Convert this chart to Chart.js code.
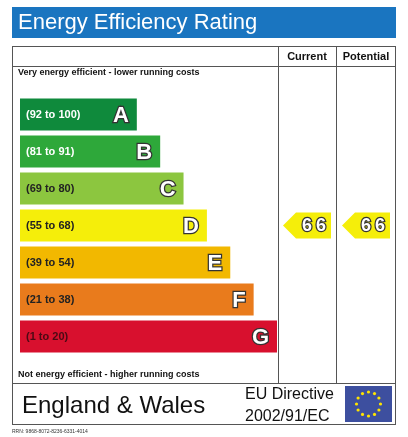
<!DOCTYPE html>
<html>
<head>
<meta charset="utf-8">
<script src="https://cdn.jsdelivr.net/npm/chart.js@4"></script>
<style>
  html, body { margin: 0; padding: 0; background: #fff; }
  #wrap { width: 408px; height: 437px; position: relative; }
</style>
</head>
<body>
<div id="wrap"><canvas id="epc" width="408" height="437"></canvas></div>
<script>
// band data
const bandLetters = ['A', 'B', 'C', 'D', 'E', 'F', 'G'];
const bandRanges = ['(92 to 100)', '(81 to 91)', '(69 to 80)', '(55 to 68)', '(39 to 54)', '(21 to 38)', '(1 to 20)'];
const bandLengths = [5, 6, 7, 8, 9, 10, 11];
const bandColors = ['#0f8a3c', '#2ea83a', '#8cc63f', '#f5ee0a', '#f2b800', '#e97b1c', '#d8102e'];
const rangeTextColors = ['#fff', '#fff', '#222', '#222', '#222', '#222', '#4a0a14'];
const currentRating = 66;
const potentialRating = 66;
const currentBand = 'D';
const potentialBand = 'D';

const FONT = 'Arial, "Liberation Sans", sans-serif';

function outlinedText(ctx, txt, x, y, size, align) {
  ctx.font = 'bold ' + size + 'px ' + FONT;
  ctx.textAlign = align;
  ctx.textBaseline = 'middle';
  ctx.lineWidth = 2.5;
  ctx.strokeStyle = '#333';
  ctx.strokeText(txt, x, y);
  ctx.fillStyle = '#fff';
  ctx.fillText(txt, x, y);
}

const framePlugin = {
  id: 'frame',
  beforeDraw(chart) {
    const ctx = chart.ctx;
    ctx.save();
    // title bar
    ctx.fillStyle = '#1a75c0';
    ctx.fillRect(12, 7, 384, 31);
    ctx.fillStyle = '#fff';
    ctx.font = '22px ' + FONT;
    ctx.textBaseline = 'middle';
    ctx.fillText('Energy Efficiency Rating', 18, 23);

    // table frame
    ctx.strokeStyle = '#555';
    ctx.lineWidth = 1;
    ctx.strokeRect(12.5, 46.5, 383, 378);
    ctx.beginPath();
    ctx.moveTo(12, 66.5); ctx.lineTo(396, 66.5);
    ctx.moveTo(12, 383.5); ctx.lineTo(396, 383.5);
    ctx.moveTo(278.5, 46); ctx.lineTo(278.5, 383);
    ctx.moveTo(336.5, 46); ctx.lineTo(336.5, 383);
    ctx.stroke();

    ctx.fillStyle = '#111';
    ctx.font = 'bold 11px ' + FONT;
    ctx.textAlign = 'center';
    ctx.fillText('Current', 307, 57);
    ctx.fillText('Potential', 366, 57);
    ctx.textAlign = 'left';
    ctx.font = 'bold 9px ' + FONT;
    ctx.fillText('Very energy efficient - lower running costs', 18, 73);
    ctx.fillText('Not energy efficient - higher running costs', 18, 375);

    // footer
    ctx.font = '24px ' + FONT;
    ctx.fillText('England & Wales', 22, 406);
    ctx.font = '16px ' + FONT;
    ctx.fillText('EU Directive', 245, 395);
    ctx.fillText('2002/91/EC', 245, 417);
    ctx.fillStyle = '#3d4f9f';
    ctx.fillRect(345, 386, 47, 36);
    ctx.fillStyle = '#ffe400';
    for (let i = 0; i < 12; i++) {
      const a = i * Math.PI / 6;
      ctx.beginPath();
      ctx.arc(368.5 + Math.cos(a) * 12, 404 + Math.sin(a) * 12, 1.6, 0, Math.PI * 2);
      ctx.fill();
    }
    ctx.fillStyle = '#333';
    ctx.font = '5px ' + FONT;
    ctx.fillText('RRN: 9868-8072-8236-6331-4014', 12, 432);
    ctx.restore();
  },
  afterDatasetsDraw(chart) {
    const ctx = chart.ctx;
    const meta = chart.getDatasetMeta(0);
    ctx.save();
    meta.data.forEach((bar, i) => {
      ctx.font = 'bold 11px ' + FONT;
      ctx.textAlign = 'left';
      ctx.textBaseline = 'middle';
      ctx.fillStyle = rangeTextColors[i];
      ctx.fillText(bandRanges[i], bar.base + 6, bar.y);
      outlinedText(ctx, bandLetters[i], bar.x - 8, bar.y + 1, 22, 'right');
    });
    // rating arrows
    const drawArrow = (left, band, rating) => {
      const i = bandLetters.indexOf(band);
      const y = meta.data[i].y;
      const h = 26, w = 48;
      ctx.fillStyle = bandColors[i];
      ctx.beginPath();
      ctx.moveTo(left, y);
      ctx.lineTo(left + 13, y - h / 2);
      ctx.lineTo(left + w, y - h / 2);
      ctx.lineTo(left + w, y + h / 2);
      ctx.lineTo(left + 13, y + h / 2);
      ctx.closePath();
      ctx.fill();
      const s = String(rating);
      outlinedText(ctx, s[0], left + 24, y + 1, 18, 'center');
      outlinedText(ctx, s[1], left + 38, y + 1, 18, 'center');
    };
    drawArrow(283, currentBand, currentRating);
    drawArrow(342, potentialBand, potentialRating);
    ctx.restore();
  }
};

new Chart(document.getElementById('epc'), {
  type: 'bar',
  data: {
    labels: bandLetters,
    datasets: [{
      data: bandLengths,
      backgroundColor: bandColors,
      borderWidth: 0,
      barPercentage: 0.87,
      categoryPercentage: 1
    }]
  },
  options: {
    indexAxis: 'y',
    responsive: false,
    animation: false,
    layout: { padding: { left: 20, right: 131, top: 96, bottom: 82 } },
    plugins: { legend: { display: false }, tooltip: { enabled: false } },
    scales: {
      x: { display: false, min: 0, max: 11 },
      y: { display: false }
    }
  },
  plugins: [framePlugin]
});
</script>
</body>
</html>
